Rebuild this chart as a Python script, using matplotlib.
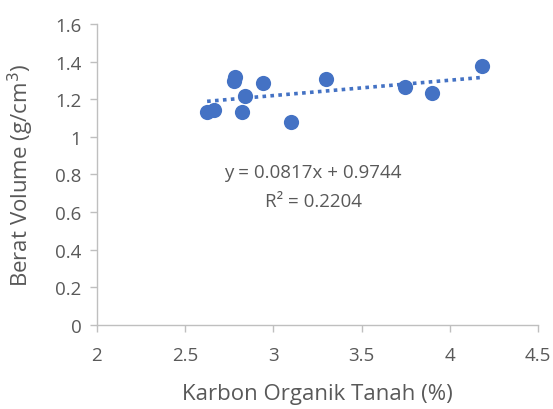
import numpy as np
import matplotlib
matplotlib.use("Agg")
import matplotlib.pyplot as plt

# data
karbon = [2.625, 2.663, 2.781, 2.78, 2.94, 2.84, 2.82, 3.10, 3.30, 3.745, 3.90, 4.18]
berat = [1.131, 1.145, 1.317, 1.296, 1.287, 1.218, 1.131, 1.078, 1.305, 1.264, 1.232, 1.376]

# trendline as printed on the chart
slope = 0.0817
intercept = 0.9744
r2 = 0.2204

blue = "#4472C4"
grey = "#595959"
axis_grey = "#bfbfbf"

plt.rcParams['font.family'] = ['Open Sans', 'DejaVu Sans']

fig = plt.figure(figsize=(5.53, 4.10), dpi=100)
ax = fig.add_axes([0.175, 0.205, 0.798, 0.734])

ax.scatter(karbon, berat, s=120, color=blue, zorder=3, linewidths=0)

xs = np.array([min(karbon), max(karbon)])
ax.plot(xs, slope * xs + intercept, color=blue, linestyle=(0, (1, 1.2)),
        linewidth=2.6, zorder=2)

ax.text(3.225, 0.815, "y = %.4fx + %.4f" % (slope, intercept), ha="center", va="center",
        fontsize=13.5, color=grey)
ax.text(3.225, 0.66, "R² = %.4f" % r2, ha="center", va="center",
        fontsize=13.5, color=grey)

ax.set_xlim(2, 4.5)
ax.set_ylim(0, 1.6)
ax.set_xticks([2, 2.5, 3, 3.5, 4, 4.5])
ax.set_xticklabels(["2", "2.5", "3", "3.5", "4", "4.5"])
ax.set_yticks([0, 0.2, 0.4, 0.6, 0.8, 1, 1.2, 1.4, 1.6])
ax.set_yticklabels(["0", "0.2", "0.4", "0.6", "0.8", "1", "1.2", "1.4", "1.6"])

for s in ["top", "right"]:
    ax.spines[s].set_visible(False)
for s in ["left", "bottom"]:
    ax.spines[s].set_color(axis_grey)
    ax.spines[s].set_linewidth(1)

ax.tick_params(axis="both", colors=axis_grey, labelcolor=grey, labelsize=13.5,
               length=5, width=1, direction="out")
ax.tick_params(axis="x", pad=10)
ax.tick_params(axis="y", pad=6)

ax.set_xlabel("Karbon Organik Tanah (%)", fontsize=16, color=grey, labelpad=14)
ax.set_ylabel("Berat Volume (g/cm$^3$)", fontsize=16, color=grey, labelpad=14)

fig.savefig("out.png", dpi=100)
